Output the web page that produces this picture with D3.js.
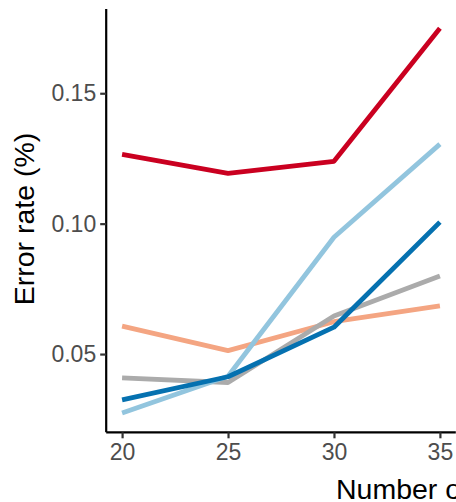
<!DOCTYPE html>
<html><head><meta charset="utf-8">
<script src="https://cdn.jsdelivr.net/npm/d3@7"></script>
<style>body{margin:0;background:#fff}svg{display:block}</style>
</head><body>
<svg id="c" width="456" height="502"></svg>
<script>
const xValues = [20, 25, 30, 35];
const seriesNames = ["s1", "s2", "s3", "s4", "s5"];
const seriesColors = ["#CA0020", "#F4A582", "#ABABAB", "#92C5DE", "#0571B0"];
const s1 = [0.1266, 0.1193, 0.1239, 0.1749];
const s2 = [0.0607, 0.0513, 0.0624, 0.0685];
const s3 = [0.0409, 0.0391, 0.0646, 0.0799];
const s4 = [0.0274, 0.0415, 0.0948, 0.1305];
const s5 = [0.0324, 0.0413, 0.0603, 0.1006];
const seriesValues = [s1, s2, s3, s4, s5];
const yTicks = [0.05, 0.10, 0.15];
const xTicks = [20, 25, 30, 35];
const xTitle = "Number of features";
const yTitle = "Error rate (%)";

const svg = d3.select("#c");
const x = d3.scaleLinear().domain([19.25, 35.75]).range([106.2, 455.8]);
const y = d3.scaleLinear().domain([0.02, 0.1823]).range([432.3, 9.0]);

const line = d3.line().x((d, i) => x(xValues[i])).y(d => y(d));
seriesValues.forEach((vals, k) => {
  svg.append("path").datum(vals)
    .attr("d", line)
    .attr("fill", "none")
    .attr("stroke", seriesColors[k])
    .attr("stroke-width", 4.8)
    .attr("stroke-linejoin", "round")
    .attr("stroke-linecap", "butt");
});

const font = "'Liberation Sans', Arial, sans-serif";
const yAxis = svg.append("g").attr("transform", `translate(${x.range()[0]},0)`)
  .call(d3.axisLeft(y).tickValues(yTicks).tickFormat(d3.format(".2f")).tickSize(6).tickPadding(4));
const xAxis = svg.append("g").attr("transform", `translate(0,${y.range()[0]})`)
  .call(d3.axisBottom(x).tickValues(xTicks).tickFormat(d3.format("d")).tickSize(6).tickPadding(5));
[yAxis, xAxis].forEach(g => {
  g.select(".domain").attr("stroke", "#000").attr("stroke-width", 2.2);
  g.selectAll(".tick line").attr("stroke", "#333").attr("stroke-width", 2.2);
  g.selectAll(".tick text").attr("fill", "#4D4D4D").style("font-family", font).style("font-size", "23px");
});
yAxis.select(".domain").attr("d", `M0,${y.range()[0]}V${y.range()[1]}`);
xAxis.select(".domain").attr("d", `M${x.range()[0]},0H${x.range()[1]}`);

svg.append("text").attr("transform", "translate(34,219) rotate(-90)")
  .attr("text-anchor", "middle").style("font-family", font).style("font-size", "28.5px")
  .attr("fill", "#000").text(yTitle);
svg.append("text").attr("x", 336).attr("y", 499)
  .attr("text-anchor", "start").style("font-family", font).style("font-size", "28.5px")
  .attr("fill", "#000").text(xTitle);
</script>
</body></html>
